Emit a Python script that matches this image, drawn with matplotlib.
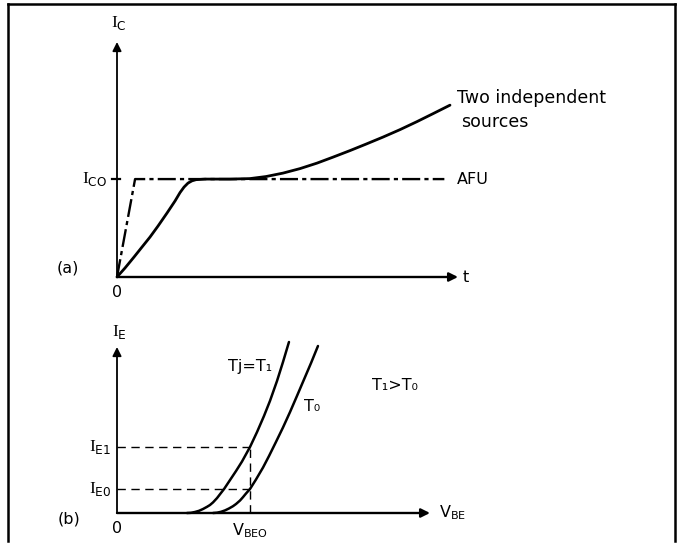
import matplotlib
matplotlib.use("Agg")
import matplotlib.pyplot as plt
from matplotlib.lines import Line2D

plt.rcParams['font.family'] = ['DejaVu Sans']
plt.rcParams['mathtext.fontset'] = 'custom'
plt.rcParams['mathtext.rm'] = 'Liberation Serif'
plt.rcParams['mathtext.sf'] = 'DejaVu Sans'
plt.rcParams['mathtext.it'] = 'DejaVu Sans'
plt.rcParams['lines.scale_dashes'] = False

# ---- (a) collector current vs time ----
t_two = [0.0, 0.235, 0.499, 0.733, 0.968, 1.202, 1.466, 1.701, 1.848, 1.965,
         2.082, 2.199, 2.317, 2.581, 3.314, 3.900, 4.370, 4.868, 5.367, 5.865,
         6.334, 6.833, 7.302, 7.801, 8.299, 8.798, 9.267, 9.765]
ic_two = [0.0, 0.092, 0.204, 0.306, 0.408, 0.520, 0.653, 0.776, 0.862, 0.918,
          0.959, 0.982, 0.994, 1.0, 1.0, 1.005, 1.026, 1.061, 1.107, 1.163,
          1.224, 1.291, 1.357, 1.429, 1.505, 1.587, 1.668, 1.755]
t_afu = [0.0, 0.53, 9.6]
ic_afu = [0.0, 1.0, 1.0]
I_C0 = 1.0
T_MAX, IC_MAX = 10.0, 2.4

# ---- (b) emitter current vs base-emitter voltage ----
v_t1 = [0.526, 0.556, 0.586, 0.617, 0.647, 0.677, 0.699, 0.722, 0.752, 0.774,
        0.805, 0.850, 0.895, 0.940, 1.0, 1.053, 1.105, 1.150, 1.203, 1.248, 1.293]
ie_t1 = [0.0, 0.008, 0.042, 0.092, 0.167, 0.258, 0.333, 0.442, 0.621, 0.779,
         1.0, 1.375, 1.75, 2.146, 2.75, 3.375, 4.04, 4.667, 5.5, 6.29, 7.125]
v_t0 = [0.722, 0.752, 0.782, 0.812, 0.842, 0.872, 0.895, 0.925, 0.947, 0.970,
        1.0, 1.045, 1.098, 1.143, 1.195, 1.248, 1.301, 1.353, 1.406, 1.459, 1.511]
ie_t0 = [0.0, 0.013, 0.05, 0.108, 0.188, 0.283, 0.375, 0.521, 0.658, 0.813,
         1.0, 1.396, 1.896, 2.375, 2.958, 3.563, 4.208, 4.875, 5.563, 6.25, 6.958]
V_BE0 = 1.0
I_E0 = 1.0
I_E1 = 2.75
V_MAX, IE_MAX = 2.3534, 6.9167

W, H = 680, 544
fig = plt.figure(figsize=(W / 100, H / 100), dpi=100)


def fx(x):
    return x / W


def fy(y):
    return 1 - y / H


# outer frame
frame_kw = dict(color='black', lw=1.8, transform=fig.transFigure)
fig.add_artist(Line2D([fx(8), fx(8)], [fy(541), fy(4)], **frame_kw))
fig.add_artist(Line2D([fx(8), fx(675)], [fy(4), fy(4)], **frame_kw))
fig.add_artist(Line2D([fx(675), fx(675)], [fy(4), fy(541)], **frame_kw))

arrow_kw = dict(arrowstyle='-|>', mutation_scale=13, lw=1.3, color='black',
                shrinkA=0, shrinkB=0)
FS = 11.5
curve_kw = dict(color='black', clip_on=False, solid_capstyle='round',
                solid_joinstyle='round')

# ---------- panel (a) ----------
axa = fig.add_axes([fx(117), fy(277), fx(458) - fx(117), fy(42) - fy(277)])
axa.set_xlim(0, T_MAX)
axa.set_ylim(0, IC_MAX)
axa.axis('off')
axa.annotate('', xy=(T_MAX, 0), xytext=(0, 0), arrowprops=dict(arrow_kw, lw=1.7),
             annotation_clip=False)
axa.annotate('', xy=(0, IC_MAX), xytext=(0, 0), arrowprops=arrow_kw,
             annotation_clip=False)
axa.plot(t_afu, ic_afu, color='black', lw=1.7, ls=(0, (13, 3, 3, 3)),
         clip_on=False, solid_capstyle='butt')
axa.plot(t_two, ic_two, lw=2.0, **curve_kw)
axa.plot([-0.15, 0.1], [I_C0, I_C0], color='black', lw=1.6, clip_on=False)

axa.text(-0.3, I_C0, r'$\mathrm{I}_{\mathsf{CO}}$', ha='right', va='center',
         fontsize=FS + 1)
axa.text(0.05, IC_MAX + 0.1, r'$\mathrm{I}_{\mathsf{C}}$', ha='center',
         va='bottom', fontsize=FS + 1)
axa.text(0, -0.08, '0', ha='center', va='top', fontsize=FS)
axa.text(T_MAX + 0.15, 0, 't', ha='left', va='center', fontsize=FS)
axa.text(-1.45, 0.09, '(a)', ha='center', va='center', fontsize=FS)
axa.text(9.98, ic_two[-1] + 0.07, 'Two independent', ha='left', va='center',
         fontsize=12.5)
axa.text(10.1, ic_two[-1] - 0.17, 'sources', ha='left', va='center',
         fontsize=12.5)
axa.text(9.98, I_C0, 'AFU', ha='left', va='center', fontsize=FS)

# ---------- panel (b) ----------
axb = fig.add_axes([fx(117), fy(513), fx(430) - fx(117), fy(347) - fy(513)])
axb.set_xlim(0, V_MAX)
axb.set_ylim(0, IE_MAX)
axb.axis('off')
axb.annotate('', xy=(V_MAX, 0), xytext=(0, 0), arrowprops=dict(arrow_kw, lw=1.7),
             annotation_clip=False)
axb.annotate('', xy=(0, IE_MAX), xytext=(0, 0), arrowprops=arrow_kw,
             annotation_clip=False)

dash_kw = dict(color='black', lw=1.0, ls=(0, (6, 4)), clip_on=False)
axb.plot([0, V_BE0], [I_E1, I_E1], **dash_kw)
axb.plot([0, V_BE0], [I_E0, I_E0], **dash_kw)
axb.plot([V_BE0, V_BE0], [0, I_E1], **dash_kw)

axb.plot(v_t1, ie_t1, lw=1.8, **curve_kw)
axb.plot(v_t0, ie_t0, lw=1.8, **curve_kw)

axb.text(-0.04, I_E1, r'$\mathrm{I}_{\mathsf{E1}}$', ha='right', va='center',
         fontsize=FS + 1)
axb.text(-0.04, I_E0, r'$\mathrm{I}_{\mathsf{E0}}$', ha='right', va='center',
         fontsize=FS + 1)
axb.text(0.02, IE_MAX + 0.25, r'$\mathrm{I}_{\mathsf{E}}$', ha='center',
         va='bottom', fontsize=FS + 1)
axb.text(0, -0.35, '0', ha='center', va='top', fontsize=FS)
axb.text(V_BE0, -0.35, r'$\mathsf{V}_{\mathsf{BEO}}$', ha='center', va='top',
         fontsize=FS)
axb.text(V_MAX + 0.07, 0, r'$\mathsf{V}_{\mathsf{BE}}$', ha='left', va='center',
         fontsize=FS)
axb.text(-0.36, -0.25, '(b)', ha='center', va='center', fontsize=FS)
axb.text(1.0, 6.1, 'Tj=T\u2081', ha='center', va='center', fontsize=FS)
axb.text(1.47, 4.45, 'T\u2080', ha='center', va='center', fontsize=FS)
axb.text(2.09, 5.3, 'T\u2081>T\u2080', ha='center', va='center', fontsize=FS)

fig.savefig('out.png', dpi=100)
